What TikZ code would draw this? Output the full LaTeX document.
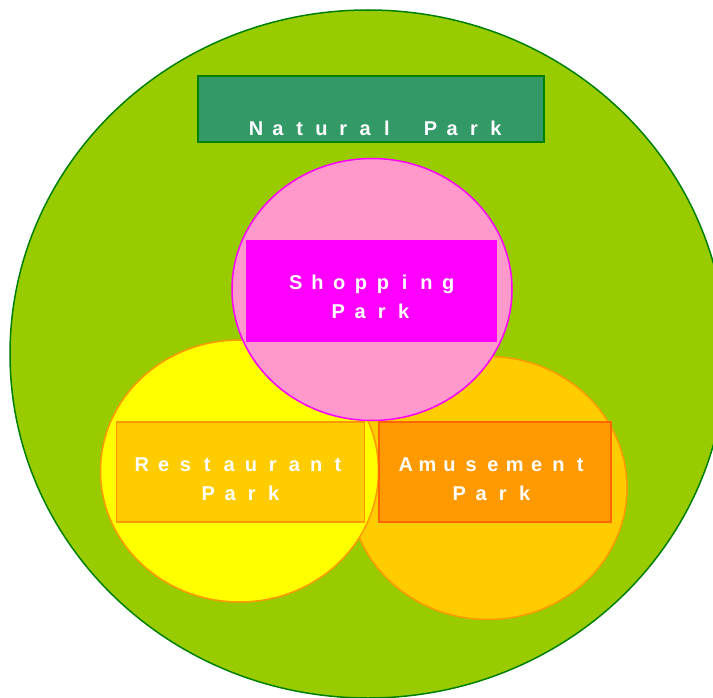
\documentclass[tikz,border=0pt]{standalone}
\usepackage{fontspec}
\usetikzlibrary{shapes.geometric}
\newfontfamily\lblfamily{Liberation Sans}
\newcommand\spacedtxt[1]{\spacedA#1\relax}
\def\spacedA#1{\ifx#1\relax\else\makebox[21.8pt]{#1}\expandafter\spacedA\fi}
\definecolor{parkgreen}{HTML}{99CC00}
\definecolor{darkgreen}{HTML}{008000}
\definecolor{seagreen}{HTML}{339966}
\definecolor{pinkfill}{HTML}{FF99CC}
\definecolor{magentaC}{HTML}{FF00FF}
\definecolor{yellowC}{HTML}{FFFF00}
\definecolor{goldC}{HTML}{FFCC00}
\definecolor{orangeC}{HTML}{FF9900}
\definecolor{darkorange}{HTML}{FF6600}
\begin{document}
\begin{tikzpicture}[x=1pt,y=-1pt,
  oval/.style={ellipse,inner sep=0pt,outer sep=0pt,line width=1.5pt},
  box/.style={rectangle,inner sep=0pt,outer sep=0pt,line width=1.5pt},
  lbl/.style={anchor=base,inner sep=0pt,text=white,font=\lblfamily\bfseries\fontsize{20}{24}\selectfont}]
\useasboundingbox (0,0) rectangle (713,698);
\clip (0,0) rectangle (713,698);
% outer park
\node[oval,draw=darkgreen,fill=parkgreen,minimum width=716pt,minimum height=688pt] (outer) at (368,354) {};
\node[box,draw=darkgreen,fill=seagreen,minimum width=346pt,minimum height=66pt] (natbox) at (371,109) {};
\node[lbl] (natlbl) at (376,136) {\spacedtxt{Natural~Park}};
% amusement
\node[oval,draw=orangeC,fill=goldC,minimum width=278pt,minimum height=263pt] (amuse) at (488,488) {};
% restaurant
\node[oval,draw=orangeC,fill=yellowC,minimum width=278pt,minimum height=262pt] (rest) at (239.5,471) {};
\node[box,draw=orangeC,fill=goldC,minimum width=248pt,minimum height=100pt] (restbox) at (240.3,472) {};
\node[lbl] (restl1) at (240,471) {\spacedtxt{Restaurant}};
\node[lbl] (restl2) at (241,500) {\spacedtxt{Park}};
\node[box,draw=darkorange,fill=orangeC,minimum width=232pt,minimum height=100pt] (amusebox) at (495.2,472) {};
\node[lbl] (amusel1) at (493,471) {\spacedtxt{Amusement}};
\node[lbl] (amusel2) at (492,500) {\spacedtxt{Park}};
% shopping
\node[oval,draw=magentaC,fill=pinkfill,minimum width=280pt,minimum height=262pt] (shop) at (372,289.5) {};
\node[box,draw=magentaC,fill=magentaC,minimum width=249pt,minimum height=101pt] (shopbox) at (371.5,291) {};
\node[lbl] (shopl1) at (372,290) {\spacedtxt{Shopping}};
\node[lbl] (shopl2) at (371,318) {\spacedtxt{Park}};
\end{tikzpicture}
\end{document}
